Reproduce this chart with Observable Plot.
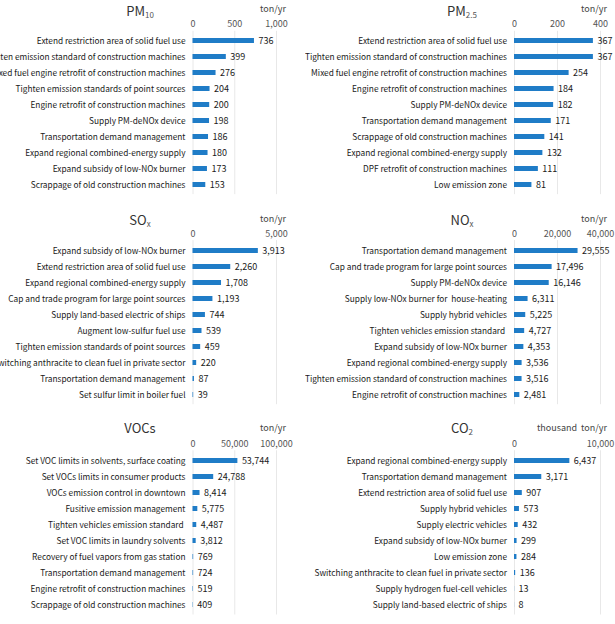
<!DOCTYPE html>
<html><head><meta charset="utf-8">
<script src="https://cdn.jsdelivr.net/npm/d3@7"></script>
<script src="https://cdn.jsdelivr.net/npm/@observablehq/plot@0.6"></script>
<style>
body{margin:0;background:#fff;font-family:"Noto Sans CJK KR","Noto Sans",sans-serif;}
#wrap{position:relative;width:615px;height:624px;overflow:hidden;}
.panel{position:absolute;}
.title{position:absolute;font-size:13px;color:#333;transform:translateX(-50%);white-space:nowrap;line-height:13px;}
.title sub{font-size:8px;color:#555;vertical-align:-2px;line-height:0;}
.unit{position:absolute;font-size:9px;color:#444;white-space:pre;transform:translateX(-100%);line-height:9px;}
</style></head><body><div id="wrap"></div>
<script>
const pm10Names = ["Extend restriction area of solid fuel use","Tighten emission standard of construction machines","Mixed fuel engine retrofit of construction machines","Tighten emission standards of point sources","Engine retrofit of construction machines","Supply PM-deNOx device","Transportation demand management","Expand regional combined-energy supply","Expand subsidy of low-NOx burner","Scrappage of old construction machines"];
const pm10Values = [736,399,276,204,200,198,186,180,173,153];
const pm10Ticks = [0,500,1000];

const pm25Names = ["Extend restriction area of solid fuel use","Tighten emission standard of construction machines","Mixed fuel engine retrofit of construction machines","Engine retrofit of construction machines","Supply PM-deNOx device","Transportation demand management","Scrappage of old construction machines","Expand regional combined-energy supply","DPF retrofit of construction machines","Low emission zone"];
const pm25Values = [367,367,254,184,182,171,141,132,111,81];
const pm25Ticks = [0,200,400];

const soxNames = ["Expand subsidy of low-NOx burner","Extend restriction area of solid fuel use","Expand regional combined-energy supply","Cap and trade program for large point sources","Supply land-based electric of ships","Augment low-sulfur fuel use","Tighten emission standards of point sources","Switching anthracite to clean fuel in private sector","Transportation demand management","Set sulfur limit in boiler fuel"];
const soxValues = [3913,2260,1708,1193,744,539,459,220,87,39];
const soxTicks = [0,5000];

const noxNames = ["Transportation demand management","Cap and trade program for large point sources","Supply PM-deNOx device","Supply low-NOx burner for  house-heating","Supply hybrid vehicles","Tighten vehicles emission standard ","Expand subsidy of low-NOx burner","Expand regional combined-energy supply","Tighten emission standard of construction machines","Engine retrofit of construction machines"];
const noxValues = [29555,17496,16146,6311,5225,4727,4353,3536,3516,2481];
const noxTicks = [0,20000,40000];

const vocNames = ["Set VOC limits in solvents, surface coating","Set VOCs limits in consumer products","VOCs emission control in downtown","Fusitive emission management","Tighten vehicles emission standard ","Set VOC limits in laundry solvents","Recovery of fuel vapors from gas station","Transportation demand management","Engine retrofit of construction machines","Scrappage of old construction machines"];
const vocValues = [53744,24788,8414,5775,4487,3812,769,724,519,409];
const vocTicks = [0,50000,100000];

const co2Names = ["Expand regional combined-energy supply","Transportation demand management","Extend restriction area of solid fuel use","Supply hybrid vehicles","Supply electric vehicles","Expand subsidy of low-NOx burner","Low emission zone","Switching anthracite to clean fuel in private sector","Supply hydrogen fuel-cell vehicles","Supply land-based electric of ships"];
const co2Values = [6437,3171,907,573,432,299,284,136,13,8];
const co2Ticks = [0,10000];

const panels = [
  {title:'PM<sub>10</sub>', unit:'ton/yr', names:pm10Names, values:pm10Values, ticks:pm10Ticks, col:0, row:0},
  {title:'PM<sub>2.5</sub>', unit:'ton/yr', names:pm25Names, values:pm25Values, ticks:pm25Ticks, col:1, row:0},
  {title:'SO<sub>x</sub>', unit:'ton/yr', names:soxNames, values:soxValues, ticks:soxTicks, col:0, row:1},
  {title:'NO<sub>x</sub>', unit:'ton/yr', names:noxNames, values:noxValues, ticks:noxTicks, col:1, row:1},
  {title:'VOCs', unit:'ton/yr', names:vocNames, values:vocValues, ticks:vocTicks, col:0, row:2},
  {title:'CO<sub>2</sub>', unit:'thousand  ton/yr', names:co2Names, values:co2Values, ticks:co2Ticks, col:1, row:2}
];

const cols = [
  {left:0, width:305, x0:192.5, x1:276, titleX:140, unitRight:286},
  {left:305, width:310, x0:514, x1:600, titleX:462, unitRight:607}
];
const rows = [
  {top:0, height:200, first:39, last:186, titleY:4, unitY:3.5},
  {top:200, height:210, first:248.3, last:396, titleY:213, unitY:213.5},
  {top:410, height:214, first:458.5, last:606.3, titleY:420.5, unitY:422.5}
];

const fmt = d3.format(",");
const font = '"Noto Sans CJK KR","Noto Sans",sans-serif';
const wrap = document.getElementById("wrap");

for (const p of panels) {
  const col = cols[p.col], row = rows[p.row];
  const n = p.names.length;
  const step = (row.last - row.first) / (n - 1);
  const marginTop = row.first - step / 2 - row.top;
  const marginBottom = row.top + row.height - (row.last + step / 2);
  const data = p.names.map((name, i) => ({name, value: p.values[i]}));
  const chart = Plot.plot({
    width: col.width,
    height: row.height,
    marginLeft: col.x0 - col.left,
    marginRight: col.left + col.width - col.x1,
    marginTop, marginBottom,
    style: {fontFamily: font, fontSize: "9px", color: "#222", background: "transparent"},
    x: {domain: [0, p.ticks[p.ticks.length - 1]]},
    y: {domain: p.names, paddingInner: 0.71, paddingOuter: 0.355, align: 0.5},
    marks: [
      Plot.gridX(p.ticks, {stroke: "#e8e8e8", strokeOpacity: 1}),
      Plot.barX(data, {x: "value", y: "name", fill: "#1f7cc7"}),
      Plot.text(data, {x: "value", y: "name", text: d => fmt(d.value), textAnchor: "start", dx: 4, fill: "#1a1a1a", fontSize: 9}),
      Plot.axisX({anchor: "top", ticks: p.ticks, tickSize: 0, tickPadding: 4, tickFormat: fmt, fill: "#555", fontSize: 9, label: null}),
      Plot.axisY({tickSize: 0, tickPadding: 7.5, label: null, fill: "#1a1a1a", fontSize: 8.3})
    ]
  });
  chart.classList.add("panel");
  chart.style.left = col.left + "px";
  chart.style.top = row.top + "px";
  wrap.appendChild(chart);

  const t = document.createElement("div");
  t.className = "title";
  t.innerHTML = p.title;
  t.style.left = col.titleX + "px";
  t.style.top = row.titleY + "px";
  wrap.appendChild(t);

  const u = document.createElement("div");
  u.className = "unit";
  u.textContent = p.unit;
  u.style.left = col.unitRight + "px";
  u.style.top = row.unitY + "px";
  wrap.appendChild(u);
}
</script></body></html>
